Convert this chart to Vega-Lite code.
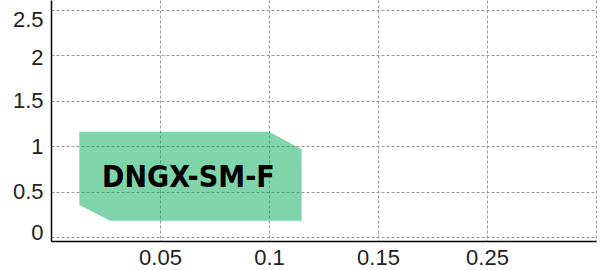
{
  "$schema": "https://vega.github.io/schema/vega-lite/v6.json",
  "autosize": "none",
  "width": 545,
  "height": 241,
  "padding": {"left": 51, "top": 0, "right": 7, "bottom": 29},
  "background": "white",
  "config": {"view": {"stroke": null}},
  "datasets": {
    "shape": [
      {"x": 0.26, "top": 1.16, "bottom": 0.354},
      {"x": 0.541, "top": 1.16, "bottom": 0.18},
      {"x": 2.0, "top": 1.16, "bottom": 0.18},
      {"x": 2.3, "top": 0.967, "bottom": 0.18}
    ],
    "label": [{"x": 1.261, "y": 0.555, "text": "DNGX-SM-F"}]
  },
  "layer": [
    {
      "data": {"name": "shape"},
      "mark": {"type": "area", "color": "#00a955", "opacity": 0.5, "interpolate": "linear"},
      "encoding": {
        "x": {
          "field": "x", "type": "quantitative",
          "scale": {"domain": [0, 5], "nice": false, "zero": false},
          "axis": {
            "title": null, "values": [1, 2, 3, 4, 5],
            "labelExpr": "datum.value == 1 ? '0.05' : datum.value == 2 ? '0.1' : datum.value == 3 ? '0.15' : datum.value == 4 ? '0.25' : ''",
            "ticks": false, "domainColor": "black", "domainWidth": 1.5,
            "grid": true, "gridColor": "#999", "gridDash": [3, 2], "gridWidth": 1,
            "labelFont": "Liberation Sans", "labelFontSize": 22, "labelColor": "#222",
            "labelPadding": 6, "labelFlush": false
          }
        },
        "y": {
          "field": "top", "type": "quantitative",
          "scale": {"domain": [-0.043, 2.61], "nice": false, "zero": false},
          "axis": {
            "title": null, "values": [0, 0.5, 1, 1.5, 2, 2.5], "format": "~g",
            "ticks": false, "domainColor": "black", "domainWidth": 1.5,
            "grid": true, "gridColor": "#999", "gridDash": [3, 2], "gridWidth": 1,
            "labelFont": "Liberation Sans", "labelFontSize": 22, "labelColor": "#222",
            "labelPadding": 8, "labelFlush": false,
            "labelOffset": {
              "condition": [
                {"test": "datum.value == 2.5", "value": 10},
                {"test": "datum.value == 2", "value": 2},
                {"test": "datum.value == 0", "value": -5}
              ],
              "value": 0
            }
          }
        },
        "y2": {"field": "bottom"}
      }
    },
    {
      "data": {"name": "label"},
      "mark": {"type": "text", "font": "DejaVu Sans Condensed", "fontWeight": "bold", "fontSize": 30, "align": "center", "baseline": "alphabetic", "color": "black"},
      "encoding": {
        "x": {"field": "x", "type": "quantitative"},
        "y": {"field": "y", "type": "quantitative"},
        "text": {"field": "text"}
      }
    }
  ]
}
